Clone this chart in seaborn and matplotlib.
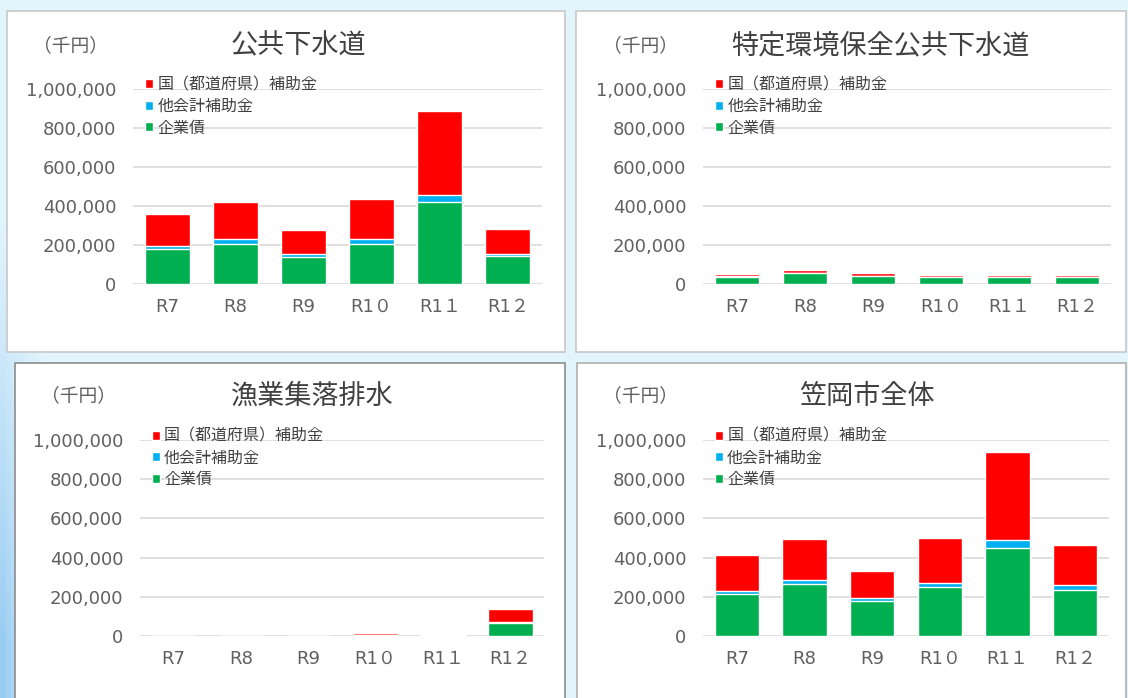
import matplotlib.pyplot as plt
import numpy as np
import pandas as pd
import seaborn as sns
from matplotlib.patches import Patch, Rectangle

# Categories (fiscal years) and series labels
years = ['R7', 'R8', 'R9', 'R1０', 'R1１', 'R1２']
series_labels = ['国（都道府県）補助金', '他会計補助金', '企業債']
colors = {'hojo': '#FF0000', 'takaikei': '#00B0F0', 'kigyousai': '#00B050'}

# 公共下水道 (千円)
koukyou_kigyousai = [181000, 207000, 139000, 207000, 418000, 144000]
koukyou_takaikei = [16000, 22000, 14000, 22000, 36000, 12000]
koukyou_hojo = [162000, 193000, 125000, 207000, 430000, 127000]

# 特定環境保全公共下水道
tokutei_kigyousai = [37000, 56000, 41000, 34000, 34000, 34000]
tokutei_takaikei = [1500, 1500, 1500, 1000, 1000, 1000]
tokutei_hojo = [13000, 16000, 16000, 9000, 9000, 9000]

# 漁業集落排水
gyogyou_kigyousai = [0, 0, 0, 4000, 2000, 65000]
gyogyou_takaikei = [0, 0, 0, 1000, 3000, 5000]
gyogyou_hojo = [0, 0, 0, 11000, 6000, 66000]

# 笠岡市全体
zentai_kigyousai = [213000, 266000, 180000, 249000, 451000, 235000]
zentai_takaikei = [18000, 20000, 12000, 23000, 40000, 24000]
zentai_hojo = [183000, 208000, 140000, 227000, 447000, 206000]

sns.set_theme(style='white')
plt.rcParams['font.family'] = ['Noto Sans CJK JP', 'DejaVu Sans']
tick_family = ['DejaVu Sans', 'Noto Sans CJK JP']

W, H = 1128, 698
fig = plt.figure(figsize=(W / 100, H / 100), dpi=100)

# light blue background with a bluer left edge
bg = fig.add_axes([0, 0, 1, 1], zorder=-10)
gx = np.linspace(0, 1, 200)
gy = np.linspace(0, 1, 120)
GX, GY = np.meshgrid(gx, gy)
strength = np.clip(1 - GX / 0.04, 0, 1) * np.clip(GY * 1.6 - 0.5, 0, 1)
base = np.array([0.89, 0.96, 0.99])
edge = np.array([0.60, 0.80, 0.95])
img = base[None, None, :] * (1 - strength[..., None]) + edge[None, None, :] * strength[..., None]
bg.imshow(img, aspect='auto', extent=[0, 1, 0, 1], origin='upper')
bg.axis('off')


def px_box(x0, y0, x1, y1):
    return [x0 / W, 1 - y1 / H, (x1 - x0) / W, (y1 - y0) / H]


panels = [
    # title, data, frame (px), axes (px), title centre x, unit centre x, title y, frame colour
    ('公共下水道', (koukyou_kigyousai, koukyou_takaikei, koukyou_hojo),
     (7, 11, 565, 352), (133, 88.7, 542, 284), 298, 70, 46, '#C8C8C8'),
    ('特定環境保全公共下水道', (tokutei_kigyousai, tokutei_takaikei, tokutei_hojo),
     (576, 11, 1126, 352), (703, 88.7, 1111, 284), 880, 641, 46, '#C8C8C8'),
    ('漁業集落排水', (gyogyou_kigyousai, gyogyou_takaikei, gyogyou_hojo),
     (15, 363, 565, 702), (140, 440, 544, 636), 312, 79, 396, '#8C8C8C'),
    ('笠岡市全体', (zentai_kigyousai, zentai_takaikei, zentai_hojo),
     (577, 363, 1126, 702), (703, 440, 1109, 636), 867, 641, 396, '#B0B0B0'),
]

text_gray = '#606060'

for title, (kigyousai, takaikei, hojo), frame, box, tx, ux, ty, edgec in panels:
    fig.patches.append(Rectangle((frame[0] / W, 1 - frame[3] / H),
                                 (frame[2] - frame[0]) / W, (frame[3] - frame[1]) / H,
                                 transform=fig.transFigure, facecolor='white',
                                 edgecolor=edgec, linewidth=1.2, zorder=-5))

    ax = fig.add_axes(px_box(*box))
    df = pd.DataFrame({'year': years, 'kigyousai': kigyousai,
                       'takaikei': takaikei, 'hojo': hojo})
    df['lvl2'] = df['kigyousai'] + df['takaikei']
    df['lvl3'] = df['lvl2'] + df['hojo']

    # stacked bars drawn as overlapping cumulative totals
    sns.barplot(data=df, x='year', y='lvl3', color=colors['hojo'], saturation=1,
                width=0.66, errorbar=None, ax=ax, zorder=3)
    sns.barplot(data=df, x='year', y='lvl2', color=colors['takaikei'], saturation=1,
                width=0.66, errorbar=None, ax=ax, zorder=3)
    sns.barplot(data=df, x='year', y='kigyousai', color=colors['kigyousai'], saturation=1,
                width=0.66, errorbar=None, ax=ax, zorder=3)

    ax.set_xlim(-0.5, 5.5)
    ax.set_ylim(0, 1000000)
    ax.set_yticks(np.arange(0, 1000001, 200000))
    ax.set_yticklabels([f'{v:,}' for v in range(0, 1000001, 200000)])
    ax.yaxis.grid(True, color='#D9D9D9', linewidth=1.2, zorder=0)
    ax.set_axisbelow(True)
    ax.set_xlabel('')
    ax.set_ylabel('')
    for s in ax.spines.values():
        s.set_visible(False)
    ax.patch.set_alpha(0)
    ax.tick_params(axis='y', length=0, pad=12, labelsize=13, labelcolor=text_gray)
    ax.tick_params(axis='x', length=0, pad=10, labelsize=13, labelcolor=text_gray)
    for lab in ax.get_xticklabels() + ax.get_yticklabels():
        lab.set_family(tick_family)

    handles = [Patch(facecolor=colors['hojo']), Patch(facecolor=colors['takaikei']),
               Patch(facecolor=colors['kigyousai'])]
    leg = ax.legend(handles, series_labels, loc='upper left',
                    bbox_to_anchor=(0.03, 1.062), frameon=False, borderpad=0,
                    borderaxespad=0, handlelength=0.5, handleheight=0.5,
                    handletextpad=0.25, labelspacing=0.28, fontsize=11.5)
    for t in leg.get_texts():
        t.set_color('#404040')

    fig.text(tx / W, 1 - ty / H, title, ha='center', va='center',
             fontsize=19.5, color='#404040')
    fig.text(ux / W, 1 - ty / H, '（千円）', ha='center', va='center',
             fontsize=13.5, color=text_gray)

fig.savefig('out.png', dpi=100)
